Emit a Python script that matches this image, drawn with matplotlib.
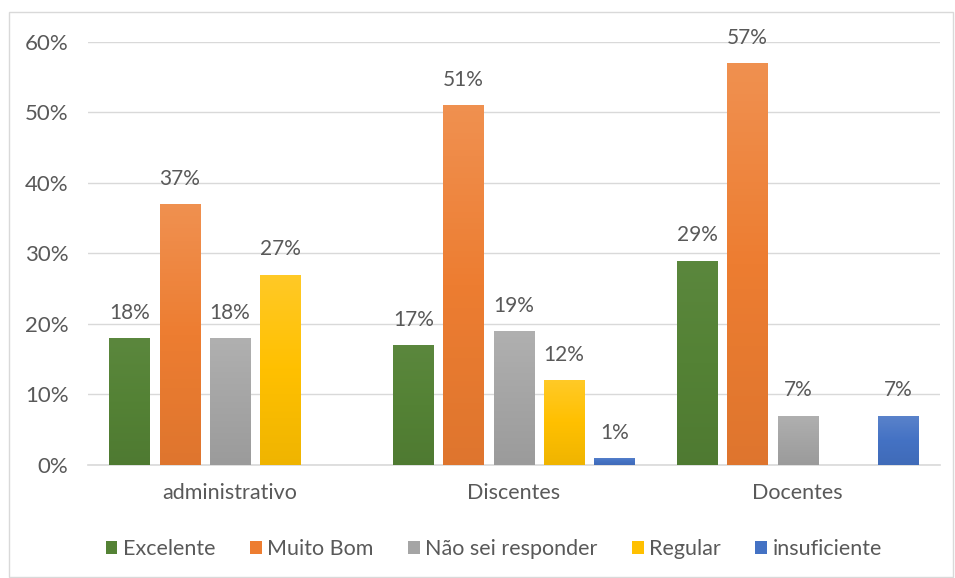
import numpy as np
import matplotlib.pyplot as plt
from matplotlib.patches import Rectangle
from matplotlib.colors import LinearSegmentedColormap, to_rgb

categorias = ["administrativo", "Discentes", "Docentes"]
series = ["Excelente", "Muito Bom", "Não sei responder", "Regular", "insuficiente"]
excelente = [0.18, 0.17, 0.29]
muito_bom = [0.37, 0.51, 0.57]
nao_sei = [0.18, 0.19, 0.07]
regular = [0.27, 0.12, np.nan]
insuficiente = [np.nan, 0.01, 0.07]
valores = [excelente, muito_bom, nao_sei, regular, insuficiente]
cores = ["#548235", "#ED7D31", "#A5A5A5", "#FFC000", "#4472C4"]
# quanto o topo de cada barra clareia
brilho = [0.04, 0.15, 0.12, 0.15, 0.12]

plt.rcParams['font.family'] = ['Lato', 'DejaVu Sans']
texto = "#595959"


def degrade(cor, k):
    c = np.array(to_rgb(cor))
    claro = c + (1 - c) * k
    escuro = c * 0.94
    return LinearSegmentedColormap.from_list("g", [escuro, c, claro])


fig = plt.figure(figsize=(9.55, 5.78), dpi=100)
ax = fig.add_axes([0.0921, 0.1955, 0.8919, 0.732])

x = np.arange(len(categorias))
passo = 0.177
largura = 0.142
grad = np.linspace(0, 1, 64).reshape(-1, 1)
for i, (nome, vals, cor) in enumerate(zip(series, valores, cores)):
    pos = x + (i - 2) * passo
    vals = np.array(vals, dtype=float)
    ok = ~np.isnan(vals)
    barras = ax.bar(pos[ok], vals[ok], width=largura, color=cor, label=nome, zorder=3)
    for b in barras:
        bx, by = b.get_x(), b.get_y()
        im = ax.imshow(grad, cmap=degrade(cor, brilho[i]), origin="lower", aspect="auto",
                       extent=(bx, bx + b.get_width(), by, by + b.get_height()),
                       zorder=3.5)
        im.set_clip_path(b)
    for p, v in zip(pos[ok], vals[ok]):
        ax.annotate(f"{v:.0%}", (p, v), xytext=(0, 11), textcoords="offset points",
                    ha="center", va="bottom", fontsize=15, color=texto)

ax.set_xlim(-0.5, 2.5)
ax.set_ylim(0, 0.6)
ax.set_yticks(np.arange(0, 0.61, 0.1))
ax.set_yticklabels([f"{int(round(t * 100))}%" for t in np.arange(0, 0.61, 0.1)])
ax.set_xticks(x)
ax.set_xticklabels(categorias)
ax.tick_params(axis="x", length=0, labelsize=15.5, colors=texto, pad=13)
ax.tick_params(axis="y", length=0, labelsize=16, colors=texto, pad=14)
ax.grid(axis="y", color="#D9D9D9", lw=1, zorder=0)
for s in ["top", "right", "left"]:
    ax.spines[s].set_visible(False)
ax.spines["bottom"].set_color("#D9D9D9")
ax.spines["bottom"].set_linewidth(1.2)

fig.legend(loc="center", bbox_to_anchor=(0.517, 0.05), ncol=5, frameon=False,
           fontsize=15.5, labelcolor=texto, handlelength=0.55, handleheight=0.55,
           handletextpad=0.25, columnspacing=1.6)

fig.patches.append(Rectangle((9 / 955, 0.002), 944 / 955, 1 - 12 / 578 - 0.002,
                             transform=fig.transFigure, fill=False,
                             edgecolor="#D9D9D9", lw=1))

fig.savefig("out.png", dpi=100)
